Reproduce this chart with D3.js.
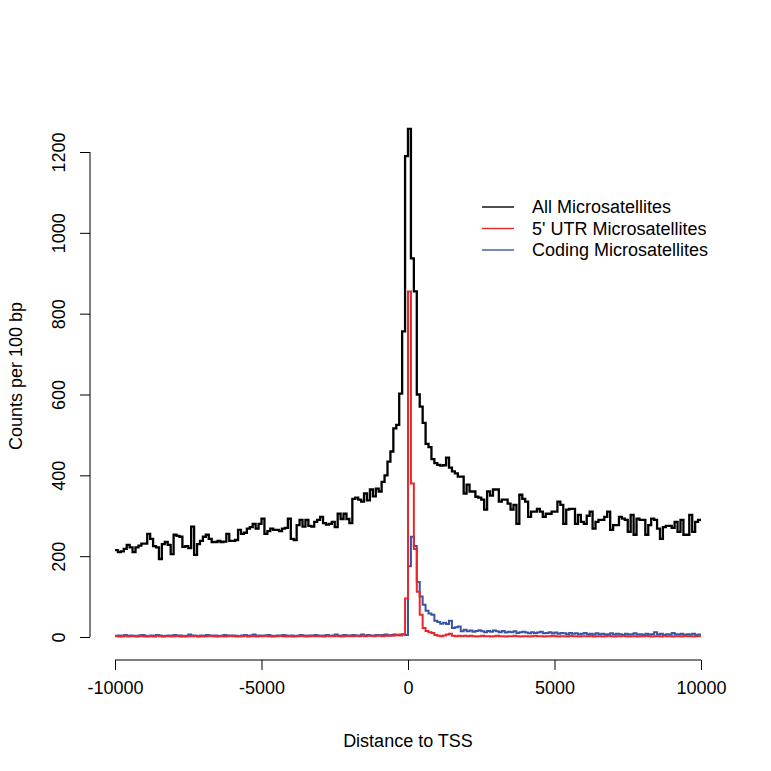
<!DOCTYPE html>
<html><head><meta charset="utf-8">
<script src="https://cdn.jsdelivr.net/npm/d3@7"></script>
<style>body{margin:0;background:#fff}svg{display:block}text{font-family:"Liberation Sans",Arial,sans-serif;fill:#000}</style>
</head><body>
<script>
const binStart = -10000, binWidth = 100;
const allMS = [
215,210,212,218,228,222,210,222,226,231,
231,255,243,225,222,193,230,235,228,205,
253,250,248,223,225,220,273,203,230,238,
248,253,243,235,235,238,235,236,255,238,
238,240,265,255,258,268,272,280,268,280,
293,255,262,268,265,265,262,268,270,293,
243,240,277,290,273,290,275,273,285,290,
297,282,278,280,285,272,305,292,305,292,
282,342,345,340,335,355,338,365,348,367,
360,384,400,434,459,516,525,602,756,1190,
1257,937,855,600,570,530,478,470,440,430,
426,424,425,444,419,410,405,397,397,355,
377,360,360,347,345,340,315,360,350,365,
365,335,340,340,330,315,327,280,352,342,
335,297,310,310,317,310,297,305,305,310,
310,335,327,280,315,317,317,280,302,285,
280,300,310,268,285,290,290,297,310,265,
277,277,297,293,290,260,302,253,293,290,
290,253,277,293,290,268,243,272,275,275,
270,285,260,290,253,253,302,260,285,290];
const utrMS = [
2,1,2,3,1,2,2,1,3,2,
1,2,2,1,3,2,1,2,2,1,
2,3,1,2,1,2,2,3,1,2,
1,2,3,2,1,2,2,1,2,3,
2,1,2,2,3,1,2,2,1,2,
2,3,2,1,2,2,3,2,1,2,
1,2,2,3,2,1,2,3,2,2,
2,1,3,2,2,3,2,1,2,3,
2,2,3,2,3,2,3,3,2,3,
3,2,3,4,3,4,5,4,6,95,
855,380,218,112,55,22,15,12,10,5,
3,2,4,6,8,3,2,3,2,3,
2,3,2,1,2,3,2,2,1,2,
3,2,2,1,2,2,3,2,1,2,
2,1,2,3,2,2,1,2,2,3,
2,1,2,2,1,3,2,2,1,2,
2,2,3,1,2,2,1,2,3,2,
1,2,2,3,2,1,2,2,1,2,
2,3,2,1,2,2,1,3,2,2,
1,2,2,1,3,2,2,1,2,2];
const codingMS = [
3,4,2,5,3,4,3,2,4,5,
3,2,4,3,5,4,2,3,4,3,
5,3,4,2,3,6,4,3,2,4,
3,5,4,3,4,2,3,5,4,3,
4,3,2,4,5,3,4,6,3,4,
3,4,5,3,2,4,3,5,4,3,
4,2,3,5,4,3,4,3,5,4,
3,4,5,3,4,6,3,4,5,3,
4,5,3,4,6,4,5,3,4,5,
4,5,6,4,5,6,5,6,7,5,
175,248,225,136,100,80,65,58,55,40,
37,33,35,32,40,22,24,26,14,18,
14,16,13,15,17,14,12,15,13,16,
14,12,15,11,13,12,14,10,12,13,
11,9,12,10,11,13,9,10,12,9,
11,8,10,9,7,10,8,9,7,8,
10,7,8,6,9,7,8,6,7,9,
6,8,7,5,8,6,7,9,6,7,
5,8,6,7,12,6,8,5,7,6,
10,7,6,8,5,7,6,8,5,6];
const xTicks = [-10000,-5000,0,5000,10000];
const yTicks = [0,200,400,600,800,1000,1200];
const legendLabels = ["All Microsatellites","5' UTR Microsatellites","Coding Microsatellites"];
const colors = ["#000000","#e8282c","#3a55a6"];

const FS = 18;
const W = 771, H = 771;
const svg = d3.select("body").append("svg").attr("width",W).attr("height",H);
const x = d3.scaleLinear().domain([-10000,10000]).range([115,701]);
const y = d3.scaleLinear().domain([0,1200]).range([637,152]);

function pts(arr){
  const p = arr.map((v,i)=>[binStart+i*binWidth, v]);
  p.push([binStart+arr.length*binWidth, arr[arr.length-1]]);
  return p;
}
const line = d3.line().x(d=>x(d[0])).y(d=>y(d[1])).curve(d3.curveStepAfter);
[[allMS,0,2.3],[codingMS,2,2],[utrMS,1,2]].forEach(([arr,ci,sw])=>{
  svg.append("path").attr("d",line(pts(arr))).attr("fill","none")
    .attr("stroke",colors[ci]).attr("stroke-width",sw).attr("stroke-linejoin","miter");
});

const fmt = d => String(d);
// x axis
const xa = svg.append("g").attr("transform","translate(0,660)")
  .call(d3.axisBottom(x).tickValues(xTicks).tickSize(10).tickPadding(0).tickFormat(fmt));
xa.select(".domain").attr("d",`M${x(-10000)},0H${x(10000)}`).attr("stroke","#000");
xa.selectAll(".tick line").attr("stroke","#000");
xa.selectAll(".tick text").attr("font-size",FS).attr("font-family","Liberation Sans, Arial, sans-serif")
  .attr("fill","#000").attr("y",28).attr("dy","0.35em");
// y axis
const ya = svg.append("g").attr("transform","translate(90,0)")
  .call(d3.axisLeft(y).tickValues(yTicks).tickSize(10).tickFormat(fmt));
ya.select(".domain").attr("d",`M0,${y(0)}V${y(1200)}`).attr("stroke","#000");
ya.selectAll(".tick line").attr("stroke","#000");
ya.selectAll(".tick text").attr("font-size",FS).attr("font-family","Liberation Sans, Arial, sans-serif")
  .attr("fill","#000").attr("text-anchor","middle")
  .attr("transform","translate(-31,0) rotate(-90)").attr("x",0).attr("y",0).attr("dy","0.35em");

svg.append("text").attr("x",408).attr("y",741).attr("text-anchor","middle")
  .attr("dy","0.35em").attr("font-size",FS).text("Distance to TSS");
svg.append("text").attr("transform","translate(16,376) rotate(-90)").attr("text-anchor","middle")
  .attr("dy","0.35em").attr("font-size",FS).text("Counts per 100 bp");

const leg = svg.append("g");
legendLabels.forEach((t,i)=>{
  const yy = 207 + i*21.5;
  leg.append("line").attr("x1",482).attr("x2",514).attr("y1",yy).attr("y2",yy)
    .attr("stroke",colors[i]).attr("stroke-width",1.4);
  leg.append("text").attr("x",532).attr("y",yy).attr("dy","0.35em").attr("font-size",FS).text(t);
});
</script>
</body></html>
